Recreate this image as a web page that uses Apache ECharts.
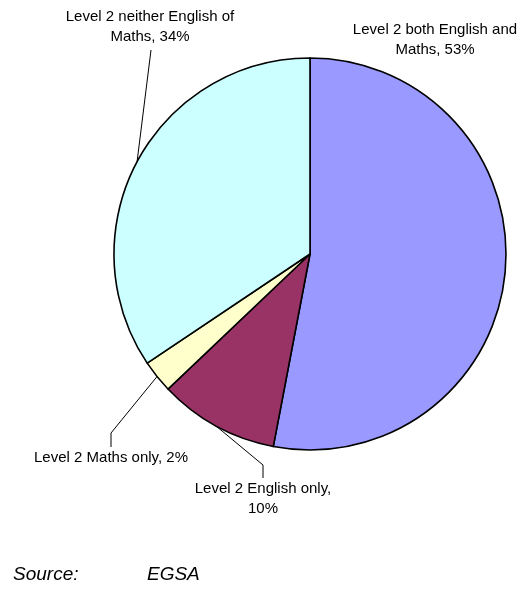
<!DOCTYPE html>
<html>
<head>
<meta charset="utf-8">
<script src="https://cdn.jsdelivr.net/npm/echarts@6/dist/echarts.min.js"></script>
<style>
  html, body { margin: 0; padding: 0; background: #fff; }
  #chart { width: 521px; height: 604px; }
</style>
</head>
<body>
<div id="chart"></div>
<script>
const categories = [
  'Level 2 both English and Maths',
  'Level 2 English only',
  'Level 2 Maths only',
  'Level 2 neither English of Maths',
]
const values = [53.0, 9.9, 2.7, 34.4]
const labelTexts = [
  'Level 2 both English and\nMaths, 53%',
  'Level 2 English only,\n10%',
  'Level 2 Maths only, 2%',
  'Level 2 neither English of\nMaths, 34%',
]
const colors = ['#9999FF', '#993366', '#FFFFCC', '#CCFFFF']

// label anchor spots and leader elbows
const LABEL_POS = [
  { x: 435, y: 40 },
  { x: 263, y: 499, elbow: [[263, 465], [263, 478]] },
  { x: 111, y: 458, elbow: [[111, 433], [111, 447]] },
  { x: 150, y: 27, elbow: [[151, 50]] },
]

const chart = echarts.init(document.getElementById('chart'))

chart.setOption({
  animation: false,
  textStyle: { fontFamily: 'Liberation Sans, Arial, sans-serif' },
  series: [{
    type: 'pie',
    center: [310, 254],
    radius: 196,
    startAngle: 90,
    clockwise: true,
    avoidLabelOverlap: false,
    itemStyle: { borderColor: '#000', borderWidth: 1.6 },
    label: {
      show: true,
      position: 'outside',
      color: '#000',
      fontSize: 15,
      lineHeight: 20,
      align: 'center',
      formatter: (p) => labelTexts[p.dataIndex],
    },
    labelLine: { show: true, lineStyle: { color: '#000', width: 1 } },
    labelLayout: (params) => {
      const pos = LABEL_POS[params.dataIndex]
      const out = { x: pos.x, y: pos.y, align: 'center', verticalAlign: 'middle' }
      if (pos.elbow && params.labelLinePoints) {
        out.labelLinePoints = [params.labelLinePoints[0], ...pos.elbow]
      }
      return out
    },
    data: categories.map((name, i) => ({
      name,
      value: values[i],
      itemStyle: { color: colors[i] },
      labelLine: { show: i !== 0 },
    })),
  }],
  graphic: [
    { type: 'text', left: 13, top: 565, style: { text: 'Source:', font: 'italic 19px Liberation Sans, Arial, sans-serif', fill: '#000' } },
    { type: 'text', left: 147, top: 565, style: { text: 'EGSA', font: 'italic 19px Liberation Sans, Arial, sans-serif', fill: '#000' } },
  ],
})
</script>
</body>
</html>
